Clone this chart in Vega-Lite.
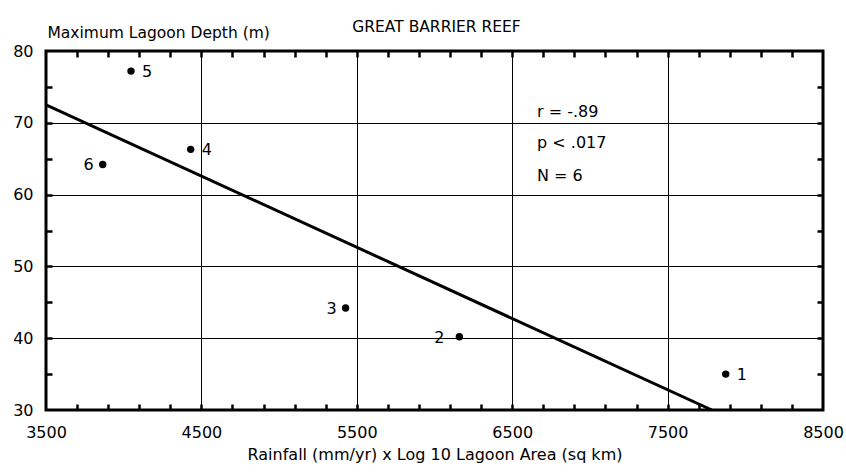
{
  "$schema": "https://vega.github.io/schema/vega-lite/v6.json",
  "width": 777,
  "height": 359,
  "autosize": "none",
  "padding": {"left": 46, "top": 51, "right": 23, "bottom": 62},
  "background": "white",
  "title": {
    "text": "GREAT BARRIER REEF",
    "anchor": "middle",
    "font": "DejaVu Sans",
    "fontSize": 15.5,
    "fontWeight": "normal",
    "color": "black",
    "offset": -10,
    "dx": 2
  },
  "config": {
    "view": {"stroke": "black", "strokeWidth": 3},
    "font": "DejaVu Sans",
    "text": {"font": "DejaVu Sans", "fontSize": 16, "color": "black"}
  },
  "datasets": {
    "pts": [
      {"id": 1, "rain": 7874, "depth": 35.0},
      {"id": 2, "rain": 6160, "depth": 40.2},
      {"id": 3, "rain": 5428, "depth": 44.2},
      {"id": 4, "rain": 4431, "depth": 66.3},
      {"id": 5, "rain": 4047, "depth": 77.2},
      {"id": 6, "rain": 3865, "depth": 64.2}
    ],
    "fit": [
      {"rain": 3500, "depth": 72.5},
      {"rain": 7785, "depth": 30}
    ],
    "stats": [
      {"rain": 6660, "depth": 70.8, "label": "r = -.89"},
      {"rain": 6660, "depth": 66.5, "label": "p < .017"},
      {"rain": 6660, "depth": 61.9, "label": "N = 6"}
    ]
  },
  "resolve": {"axis": {"x": "independent", "y": "independent"}},
  "layer": [
    {
      "data": {"name": "fit"},
      "mark": {"type": "line", "color": "black", "strokeWidth": 3, "clip": true},
      "encoding": {
        "x": {
          "field": "rain", "type": "quantitative",
          "scale": {"domain": [3500, 8500], "nice": false, "zero": false},
          "axis": {
            "orient": "top",
            "offset": -6,
            "zindex": 2,
            "values": [3700, 3900, 4100, 4300, 4500, 4700, 4900, 5100, 5300, 5500, 5700, 5900, 6100, 6300, 6500, 6700, 6900, 7100, 7300, 7500, 7700, 7900, 8100, 8300],
            "labels": false, "grid": false, "domain": false, "title": null,
            "ticks": true, "tickSize": 6, "tickWidth": 2.5, "tickColor": "black", "tickOpacity": 1
          }
        },
        "y": {
          "field": "depth", "type": "quantitative",
          "scale": {"domain": [30, 80], "nice": false, "zero": false},
          "axis": {
            "orient": "right",
            "offset": -6,
            "zindex": 2,
            "values": [35, 40, 45, 50, 55, 60, 65, 70, 75],
            "labels": false, "grid": false, "domain": false, "title": null,
            "ticks": true, "tickSize": 6, "tickWidth": 2.5, "tickColor": "black", "tickOpacity": 1
          }
        }
      }
    },
    {
      "data": {"name": "fit"},
      "mark": {"type": "line", "color": "black", "strokeWidth": 0, "strokeOpacity": 0, "clip": true},
      "encoding": {
        "x": {
          "field": "rain", "type": "quantitative",
          "scale": {"domain": [3500, 8500], "nice": false, "zero": false},
          "axis": {
            "orient": "bottom",
            "offset": -6,
            "zindex": 2,
            "values": [3700, 3900, 4100, 4300, 4500, 4700, 4900, 5100, 5300, 5500, 5700, 5900, 6100, 6300, 6500, 6700, 6900, 7100, 7300, 7500, 7700, 7900, 8100, 8300],
            "labels": false, "grid": false, "domain": false, "title": null,
            "ticks": true, "tickSize": 6, "tickWidth": 2.5, "tickColor": "black", "tickOpacity": 1
          }
        },
        "y": {
          "field": "depth", "type": "quantitative",
          "scale": {"domain": [30, 80], "nice": false, "zero": false},
          "axis": {
            "orient": "left",
            "offset": -6,
            "zindex": 2,
            "values": [35, 40, 45, 50, 55, 60, 65, 70, 75],
            "labels": false, "grid": false, "domain": false, "title": null,
            "ticks": true, "tickSize": 6, "tickWidth": 2.5, "tickColor": "black", "tickOpacity": 1
          }
        }
      }
    },
    {
      "data": {"name": "pts"},
      "mark": {"type": "circle", "size": 55, "color": "black", "opacity": 1},
      "encoding": {
        "x": {
          "field": "rain", "type": "quantitative",
          "scale": {"domain": [3500, 8500], "nice": false, "zero": false},
          "axis": {
            "orient": "bottom",
            "values": [3500, 4500, 5500, 6500, 7500, 8500],
            "format": "d",
            "labelOverlap": false, "labelFlush": false, "labelBound": false,
            "labelFont": "DejaVu Sans", "labelFontSize": 16, "labelColor": "black",
            "labelPadding": 14,
            "grid": true, "gridColor": "black", "gridWidth": 1, "gridOpacity": 1,
            "domain": false,
            "ticks": false,
            "title": "Rainfall (mm/yr) x Log 10 Lagoon Area (sq km)",
            "titleFont": "DejaVu Sans", "titleFontSize": 16, "titleFontWeight": "normal", "titleColor": "black",
            "titlePadding": 6
          }
        },
        "y": {
          "field": "depth", "type": "quantitative",
          "scale": {"domain": [30, 80], "nice": false, "zero": false},
          "axis": {
            "orient": "left",
            "values": [30, 40, 50, 60, 70, 80],
            "format": "d",
            "labelOverlap": false, "labelFlush": false, "labelBound": false,
            "labelFont": "DejaVu Sans", "labelFontSize": 16, "labelColor": "black",
            "labelPadding": 13,
            "grid": true, "gridColor": "black", "gridWidth": 1, "gridOpacity": 1,
            "domain": false,
            "ticks": false,
            "title": "Maximum Lagoon Depth (m)",
            "titleFont": "DejaVu Sans", "titleFontSize": 15.5, "titleFontWeight": "normal", "titleColor": "black",
            "titleAngle": 0, "titleAlign": "left", "titleBaseline": "alphabetic",
            "titleX": 1, "titleY": -14
          }
        }
      }
    },
    {
      "data": {"name": "pts"},
      "transform": [{"filter": {"field": "id", "oneOf": [1, 4, 5]}}],
      "mark": {"type": "text", "align": "left", "baseline": "middle", "dx": 11, "dy": 1, "fontSize": 16},
      "encoding": {
        "x": {"field": "rain", "type": "quantitative", "axis": null},
        "y": {"field": "depth", "type": "quantitative", "axis": null},
        "text": {"field": "id", "type": "nominal"}
      }
    },
    {
      "data": {"name": "pts"},
      "transform": [{"filter": {"field": "id", "oneOf": [3, 6]}}],
      "mark": {"type": "text", "align": "right", "baseline": "middle", "dx": -9, "dy": 1, "fontSize": 16},
      "encoding": {
        "x": {"field": "rain", "type": "quantitative", "axis": null},
        "y": {"field": "depth", "type": "quantitative", "axis": null},
        "text": {"field": "id", "type": "nominal"}
      }
    },
    {
      "data": {"name": "pts"},
      "transform": [{"filter": {"field": "id", "oneOf": [2]}}],
      "mark": {"type": "text", "align": "right", "baseline": "middle", "dx": -15, "dy": 1, "fontSize": 16},
      "encoding": {
        "x": {"field": "rain", "type": "quantitative", "axis": null},
        "y": {"field": "depth", "type": "quantitative", "axis": null},
        "text": {"field": "id", "type": "nominal"}
      }
    },
    {
      "data": {"name": "stats"},
      "mark": {"type": "text", "align": "left", "baseline": "alphabetic", "fontSize": 16},
      "encoding": {
        "x": {"field": "rain", "type": "quantitative", "axis": null},
        "y": {"field": "depth", "type": "quantitative", "axis": null},
        "text": {"field": "label", "type": "nominal"}
      }
    }
  ]
}
